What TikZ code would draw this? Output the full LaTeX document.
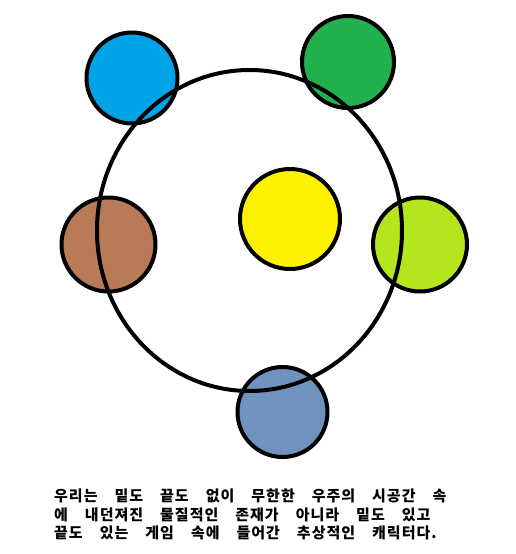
\documentclass[tikz,border=0pt]{standalone}
\usepackage{fontspec}
\newfontfamily\kr{Noto Sans CJK KR}
\definecolor{cblue}{HTML}{00A2E8}
\definecolor{cgreen}{HTML}{22B14C}
\definecolor{cyellow}{HTML}{FFF200}
\definecolor{cbrown}{HTML}{B97A57}
\definecolor{clime}{HTML}{B5E61D}
\definecolor{csteel}{HTML}{7092BE}
\newdimen\lsk \lsk=1pt
\newdimen\lgap \lgap=16pt
\def\spacedtext#1{\spacedA#1\relax}
\def\spacedA#1{\ifx#1\relax\else\ifx#1|\kern\lgap\else#1\kern\lsk\fi\expandafter\spacedA\fi}
\tikzset{
  ball/.style={circle, draw=black, line width=4pt, minimum size=#1, inner sep=0pt},
  txt/.style={anchor=base west, inner sep=0pt, font=\kr\bfseries\fontsize{15pt}{15pt}\selectfont}
}
\begin{document}
\begin{tikzpicture}[x=1pt,y=-1pt]
\useasboundingbox (0,0) rectangle (515,554);
\node[ball=91pt, fill=cblue] (blue) at (132,78) {};
\node[ball=92pt, fill=cgreen] (green) at (348,62) {};
\node[ball=100pt, fill=cyellow] (yellow) at (290,219) {};
\node[ball=94pt, fill=cbrown] (brown) at (108.5,244.5) {};
\node[ball=94pt, fill=clime] (lime) at (420,244.5) {};
\node[ball=90pt, fill=csteel] (steel) at (282.5,412) {};
\draw[line width=4pt] (249.5,230.5) ellipse [x radius=152.5, y radius=160.5];
\node[txt] (l1) at (54,501.5) {\spacedtext{우리는|밑도|끝도|없이|무한한|우주의|시공간|속}};
\node[txt] (l2) at (54,520) {\spacedtext{에|내던져진|물질적인|존재가|아니라|밑도|있고}};
\node[txt] (l3) at (54,538.5) {\spacedtext{끝도|있는|게임|속에|들어간|추상적인|캐릭터다.}};
\end{tikzpicture}
\end{document}
